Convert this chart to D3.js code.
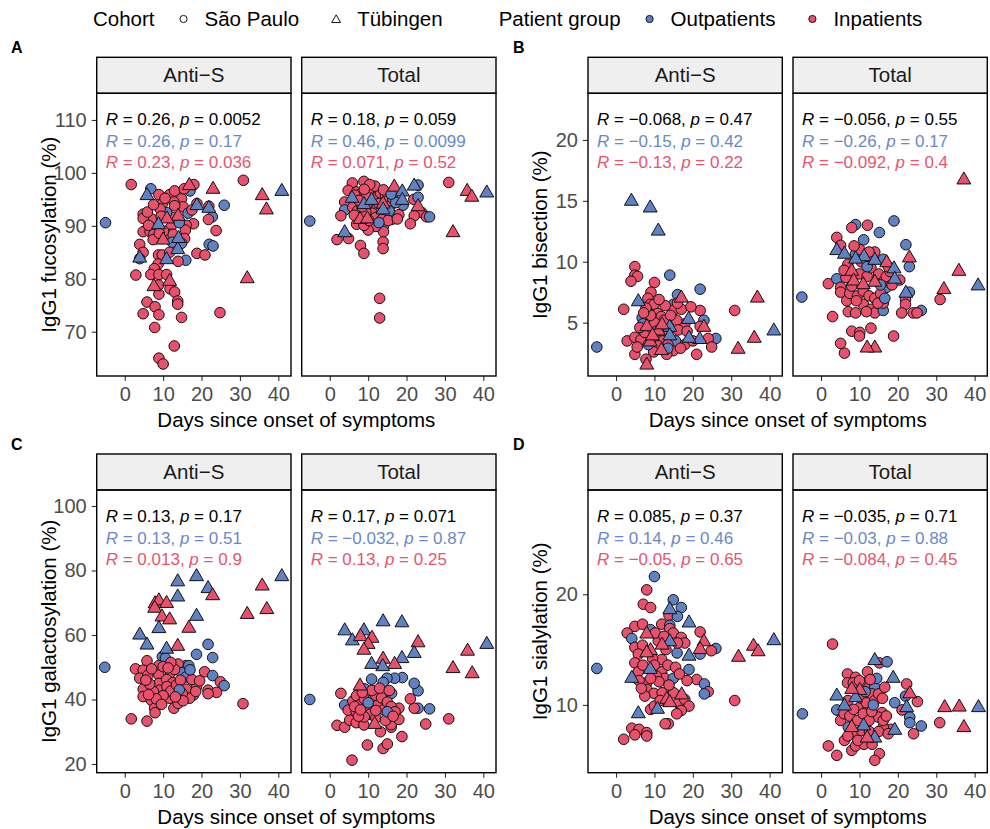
<!DOCTYPE html>
<html>
<head>
<meta charset="utf-8">
<script src="https://cdn.jsdelivr.net/npm/d3@7"></script>
<style>
body { margin: 0; background: #fff; }
svg text { font-family: "Liberation Sans", Arial, sans-serif; }
</style>
</head>
<body>
<svg id="chart" width="990" height="829"></svg>
<script>
// each point: [days since onset, value, group (O = outpatient, I = inpatient), cohort (S = São Paulo, T = Tübingen)]
let facetNames = ["Anti\u2212S", "Total"];

let fucAntiS = [
  [-5,90.6,"O","S"],[1.7,97.8,"I","S"],[6.8,97.0,"O","S"],[5.8,95.9,"O","T"],[8.9,95.9,"I","S"],
  [11.7,95.9,"I","S"],[13,96.6,"I","S"],[14.8,95.1,"I","S"],[16.8,97.8,"I","T"],[17,96.6,"O","S"],
  [18,97.8,"I","S"],[23,97.1,"I","T"],[30.9,98.6,"I","S"],[35.8,95.9,"I","T"],[40.9,96.7,"O","T"],
  [36.9,93.2,"I","T"],[25.9,93.9,"O","S"],[18.8,94.2,"I","S"],[18.8,94,"O","T"],[21.9,93.7,"I","S"],
  [21.9,93.5,"O","T"],[22.8,91.7,"O","S"],[21.8,91.2,"I","S"],[23.8,89.1,"I","S"],[22,86.5,"O","S"],
  [23,86.2,"O","S"],[18.8,84.8,"I","S"],[20.9,84.5,"I","S"],[17.9,90.4,"I","S"],[16,90.1,"I","S"],
  [15.8,89.2,"I","S"],[15.6,87.6,"I","S"],[15.9,83.5,"O","S"],[13.9,83.3,"I","S"],[13.8,85.7,"O","T"],
  [14,87.8,"O","T"],[14.8,86.7,"O","S"],[13.9,92.0,"I","T"],[13.5,91.3,"O","S"],[12.5,91.6,"I","S"],
  [10.9,92.5,"O","S"],[11,91.5,"I","T"],[9.8,94.2,"I","S"],[9.2,93.2,"I","S"],[8.8,90.4,"O","T"],
  [8.8,91.2,"I","S"],[7,91.3,"I","S"],[4.8,92.2,"I","S"],[4.8,91.4,"I","S"],[5.9,92.6,"I","S"],
  [4.8,88.9,"I","S"],[6.6,88.9,"I","S"],[7.6,88.4,"I","S"],[7.4,87.4,"I","S"],[10,87.5,"I","T"],
  [12,89.7,"I","S"],[11.9,88.4,"I","S"],[12.6,88.4,"I","S"],[10.1,89.0,"I","S"],[9,88.6,"I","S"],
  [3.9,86.5,"I","S"],[4.8,85,"I","S"],[3.9,83.8,"O","S"],[3.9,84.1,"O","T"],[10.9,83.8,"O","T"],
  [8.8,84.5,"I","S"],[9.8,84.5,"I","S"],[11.7,85,"I","S"],[8.7,82.8,"I","S"],[7.7,81.9,"I","S"],
  [2.9,80.7,"I","S"],[6.8,80.8,"I","S"],[8.9,80.8,"I","S"],[10.9,80.8,"I","S"],[11.7,79.7,"I","T"],
  [7.6,78.7,"I","T"],[8.8,78.8,"I","S"],[11.8,78.1,"I","S"],[13,77.5,"I","S"],[8.9,77.1,"I","S"],
  [13.8,75.8,"I","S"],[13.8,75.2,"I","S"],[5.8,75.6,"I","S"],[7.9,74.7,"I","S"],[4.8,73.4,"I","S"],
  [8.9,73.2,"I","S"],[14.8,72.7,"I","S"],[24.8,73.6,"I","S"],[7.8,70.8,"I","S"],[12.9,67.3,"I","S"],
  [8.9,65.0,"I","S"],[10,63.9,"I","S"],[31.9,80.2,"I","T"],[6.2,90.1,"I","S"],[9.5,91.8,"I","S"],
  [12.8,94.5,"I","S"],[15.2,93.6,"I","S"],[16.5,92.4,"O","S"],[10.5,95.2,"I","S"],[7.5,94.0,"I","S"],
  [14.2,90.6,"O","S"],[13,93.8,"I","S"],[12.4,86.9,"O","S"],[17.5,93.0,"I","S"],[15.5,97.0,"I","S"]
];
let fucTotal = [
  [-5.2,90.9,"O","S"],[5.9,98.1,"I","S"],[8.9,98.4,"I","S"],[4.8,96.7,"I","S"],[7,96.4,"I","S"],
  [8,96.0,"I","S"],[5.8,95.4,"O","T"],[3.9,94.5,"I","S"],[3.9,93.0,"O","S"],[2.9,91.9,"I","S"],
  [8.9,94.2,"O","T"],[10.8,97.0,"I","S"],[11.6,96.7,"I","S"],[10,96.4,"I","S"],[10.9,95.0,"O","T"],
  [13.9,94.3,"I","T"],[13.9,93.2,"O","T"],[16.8,97.5,"I","T"],[18.9,96.6,"O","T"],[22,97.7,"O","T"],
  [23,97.7,"O","S"],[18.9,95,"O","T"],[19.1,93.9,"O","S"],[21.9,95,"I","S"],[23,95.4,"O","S"],
  [23,93.8,"I","T"],[24,92.5,"I","S"],[25.2,91.7,"I","S"],[26,91.7,"O","S"],[22,91.9,"I","S"],
  [21,90.4,"I","S"],[18,92.1,"I","S"],[16.1,91.2,"O","S"],[31,98.2,"I","S"],[35.8,96.7,"I","T"],
  [37,95.6,"I","T"],[40.9,96.4,"O","T"],[32.1,88.9,"I","T"],[3.9,88.9,"O","T"],[1.9,87.4,"I","S"],
  [4.9,87.6,"I","S"],[8,86.3,"I","S"],[8.9,84.8,"I","S"],[13.9,87,"I","S"],[13.9,85.7,"I","S"],
  [14,89.9,"O","S"],[14,88.9,"I","S"],[12,89.9,"I","S"],[10,89.2,"I","S"],[7,90.3,"I","S"],
  [8.9,90.1,"I","S"],[7.9,91.4,"I","T"],[9.8,91.5,"I","T"],[13,76.3,"I","S"],[13,72.6,"I","S"],
  [6,93.5,"I","S"],[7.2,92.8,"I","S"],[6.5,95.8,"I","S"],[9.5,95.6,"I","S"],[10.5,93.8,"I","S"],
  [11.5,94.8,"I","S"],[12.2,93.2,"I","S"],[12.5,95.6,"I","S"],[13.2,96.2,"I","S"],[14.5,95.8,"I","S"],
  [15,94.6,"I","S"],[15.8,93.8,"I","S"],[16.4,95.2,"O","S"],[11,92.4,"I","S"],[12,91.6,"I","S"],
  [14.8,92.4,"I","S"],[9.4,92.6,"I","S"],[8.4,93.6,"I","S"],[7.6,94.8,"I","S"],[6.4,92.0,"I","S"],
  [10.2,91.0,"I","S"],[13.6,91.2,"I","S"],[15.5,92.8,"O","S"],[17.2,94.4,"O","S"],[12.8,94.2,"I","S"],
  [11.8,97.5,"I","S"],[10.4,97.8,"I","S"],[14,96.8,"I","S"],[16,96.0,"O","S"],[9,96.9,"I","S"],
  [15.2,91.0,"I","S"],[17.6,91.3,"I","S"],[12.8,90.6,"O","S"]
];
let bisAntiS = [
  [-5,3.0,"O","S"],[4,15.05,"O","T"],[8.9,14.5,"O","T"],[11,12.6,"O","T"],[4.9,9.6,"I","S"],
  [4.9,8.9,"I","S"],[5.6,8.8,"I","S"],[3.9,8.4,"I","S"],[10,8.3,"I","S"],[14,8.9,"O","S"],
  [21.9,7.75,"O","S"],[17,7.1,"I","T"],[16,7.3,"O","S"],[5.8,6.8,"O","T"],[9.1,7.5,"I","S"],
  [8.3,7.0,"I","S"],[8.9,6.5,"I","S"],[9.9,6.5,"I","S"],[2,6.1,"I","S"],[14.9,6.5,"O","S"],
  [14.9,6.0,"I","S"],[21.9,6.0,"I","S"],[30.9,6.0,"I","S"],[36.8,7.1,"I","T"],[41.1,4.4,"O","T"],
  [36,3.8,"I","T"],[31.8,2.9,"I","T"],[26,3.7,"O","S"],[24,3.7,"I","S"],[24.9,3.0,"I","S"],
  [22.9,4.7,"I","T"],[22.9,5.2,"O","S"],[21.9,4.7,"I","S"],[18.9,5.35,"O","T"],[17.9,4.9,"I","S"],
  [21.8,3.7,"O","T"],[19,3.8,"O","T"],[17.9,3.2,"I","S"],[14,4.7,"O","T"],[14,4.0,"O","T"],
  [15.8,5.2,"I","S"],[10.8,5.75,"I","S"],[11.8,5.5,"I","S"],[6.8,5.4,"O","S"],[7,4.9,"O","S"],
  [8,4.75,"I","T"],[11,4.4,"I","T"],[8.9,3.5,"I","T"],[11.8,2.8,"I","T"],[7.8,2.0,"I","S"],
  [8,1.6,"I","T"],[4.9,2.4,"I","S"],[2.9,3.5,"I","S"],[4.9,3.8,"I","S"],[21,2.4,"I","S"],
  [14.9,2.7,"I","S"],[13.2,2.4,"I","S"],[6.5,3.6,"I","S"],[7.5,4.2,"I","S"],[9.5,4.5,"I","S"],
  [10.4,3.9,"I","S"],[12.2,3.5,"I","S"],[13,4.4,"I","S"],[12.5,5.2,"I","S"],[10,5.0,"I","S"],
  [9,5.6,"I","S"],[7.8,6.2,"I","S"],[16.2,4.4,"I","S"],[15.5,3.5,"O","S"],[16.8,2.9,"I","S"],
  [13.5,3.2,"I","S"],[11,3.1,"I","S"],[9.8,2.6,"I","S"],[8.4,3.2,"O","S"],[6.2,4.6,"I","S"],
  [14.2,5.6,"I","S"],[17,6.1,"I","S"],[19.5,6.3,"I","S"],[12.8,6.4,"I","S"],[11.2,6.9,"I","S"],
  [10.5,4.3,"O","S"],[7.2,5.8,"I","S"],[5.5,3.0,"I","S"],[18.5,4.3,"I","S"],[16,6.6,"I","S"],
  [13.5,2.9,"O","S"],[20,3.5,"I","S"],[12,4.9,"I","T"],[9.5,4.0,"I","T"]
];
let bisTotal = [
  [-5,7.1,"O","S"],[37.2,16.8,"I","T"],[19,13.35,"O","S"],[9,13.05,"O","S"],[8,12.8,"I","S"],
  [12.1,13.0,"I","S"],[15.2,12.4,"O","S"],[11.1,11.8,"O","S"],[4.1,12.0,"I","S"],[5.1,11.35,"I","S"],
  [22.1,11.4,"O","S"],[4.1,11.0,"O","T"],[6.1,10.7,"O","T"],[9,10.65,"O","S"],[10.1,11.0,"I","S"],
  [11.2,10.5,"O","T"],[9,10.3,"O","T"],[14,10.8,"I","S"],[14,10.2,"O","T"],[16.2,10.2,"O","S"],
  [17.1,10.0,"I","T"],[23,10.4,"I","T"],[23,9.6,"O","S"],[19,9.5,"O","T"],[19.2,8.65,"O","T"],
  [35.9,9.3,"I","T"],[40.9,8.1,"O","T"],[32,7.8,"I","T"],[31,6.9,"I","S"],[22.1,7.5,"O","T"],
  [23,7.5,"O","S"],[22,6.9,"I","S"],[22,6.5,"I","S"],[26.1,6.0,"O","S"],[24,5.8,"I","S"],
  [25,5.8,"I","S"],[21,5.8,"I","S"],[18.9,3.9,"I","S"],[14,3.0,"I","T"],[12,3.0,"I","T"],
  [6.1,2.5,"I","S"],[5.1,3.3,"I","S"],[8,4.3,"I","S"],[10.1,4.2,"I","S"],[10,3.9,"I","S"],
  [13,4.55,"I","S"],[3,5.5,"I","S"],[1.9,8.2,"I","S"],[4.1,8.6,"O","S"],[5.1,7.9,"I","S"],
  [5.1,7.5,"I","S"],[6.7,6.8,"I","S"],[7.1,5.9,"I","S"],[9,5.8,"I","S"],[11,6.5,"I","S"],
  [13,6.1,"I","S"],[14,5.8,"I","S"],[16.2,6.0,"O","S"],[16.2,6.6,"I","S"],[17.1,7.9,"O","S"],
  [7,9.8,"I","S"],[8,9.3,"I","T"],[8.5,8.5,"I","T"],[10,9.0,"I","S"],[11,8.2,"I","T"],
  [12,8.8,"I","S"],[13,9.5,"I","S"],[14,8.4,"I","T"],[15,9.0,"I","S"],[16,8.3,"I","S"],
  [17,8.8,"I","S"],[18,9.2,"I","S"],[7.5,7.4,"I","S"],[9.5,7.2,"I","S"],[11,7.6,"I","S"],
  [12.5,7.2,"I","S"],[14,7.0,"I","S"],[15.5,7.4,"I","S"],[13.5,10.2,"I","S"],[10.5,10.0,"I","S"],
  [8,8.0,"I","S"],[12,9.6,"O","S"],[15.5,8.1,"O","S"],[6.5,8.7,"I","S"],[9.2,6.8,"I","S"],
  [11.8,5.9,"I","S"],[14.8,6.6,"I","S"],[16.6,7.0,"O","S"],[8.6,11.3,"I","S"],[6,9.3,"I","S"],
  [17.5,9.6,"I","S"],[18.5,8.1,"I","S"],[20.5,8.5,"I","S"],[12.5,10.8,"I","S"]
];
let galAntiS = [
  [-5.2,50,"O","S"],[1.7,34,"I","S"],[5.8,33.3,"I","S"],[3.9,60.3,"O","T"],[5.8,57.2,"O","T"],
  [7.9,70,"I","T"],[8.9,70.9,"I","T"],[10.9,70.1,"I","T"],[7.8,68.6,"I","T"],[9.7,65.9,"I","T"],
  [11.7,65,"I","T"],[8.9,62.3,"O","T"],[10.9,55.9,"O","T"],[13.8,56.8,"I","T"],[13.8,76.8,"O","T"],
  [13.8,72.1,"O","T"],[18.7,78.4,"O","T"],[21.7,74.7,"O","T"],[22.9,72.5,"I","T"],[18.7,66.1,"O","T"],
  [16.7,62.4,"I","T"],[31.9,66.7,"I","T"],[35.8,75.5,"I","T"],[37,68.2,"I","T"],[40.9,78.4,"O","T"],
  [21.7,57.1,"O","S"],[18.7,54,"O","S"],[22.9,53,"O","S"],[9.8,53.3,"O","S"],[10.6,52.8,"O","S"],
  [20.8,48.6,"I","S"],[22.9,47.4,"O","S"],[24.9,45.5,"I","S"],[25.9,44.3,"O","S"],[21.7,42.9,"I","S"],
  [23.9,42.2,"I","S"],[21.7,41.8,"I","S"],[30.8,38.7,"I","S"],[18.7,44,"I","S"],[17.9,41.4,"I","S"],
  [15.9,50.5,"O","S"],[16.7,50.5,"O","S"],[13.9,51,"I","S"],[5.8,52,"I","S"],[2.8,49.5,"I","S"],
  [4.8,49.1,"I","S"],[3.9,46.6,"I","S"],[4.8,43.2,"I","S"],[4.8,40.9,"I","S"],[6.9,39.8,"I","S"],
  [7.8,37.3,"I","S"],[7.9,35.9,"I","S"],[8.9,50.5,"I","S"],[8.9,47.6,"I","S"],[8.9,45,"I","S"],
  [11.7,40.4,"I","S"],[12.8,37.3,"I","S"],[13.9,38.8,"I","S"],[11.9,48.3,"I","S"],[10.9,46.2,"I","S"],
  [12.6,45.2,"I","S"],[14.8,48.3,"O","S"],[16,47.0,"O","S"],[16,43.2,"I","S"],[16.9,40.4,"I","S"],
  [9.1,42.9,"I","S"],[7.5,42.4,"I","S"],[6,47.5,"I","S"],[7,49.5,"I","S"],[10,50.2,"I","S"],
  [11,44,"I","S"],[12,42.6,"I","S"],[13.5,44.5,"I","S"],[14.5,46,"I","S"],[15,41.8,"I","S"],
  [13,49.3,"I","S"],[6.5,44.8,"I","S"],[10,41.2,"I","S"],[8.2,40.2,"I","S"],[15.2,39.6,"I","S"],
  [17.5,46.2,"I","S"],[19.5,45.8,"I","S"],[12,51.5,"I","S"],[6.2,41.5,"I","S"],[9.6,38.5,"I","S"],
  [14.2,43,"O","S"],[11.3,49.8,"I","S"],[17,49.2,"O","S"],[5.5,46,"I","S"],[18.5,42.5,"I","S"],
  [13.2,40.8,"I","S"]
];
let galTotal = [
  [-5.2,40,"O","S"],[3.9,61.6,"O","T"],[5.9,58.5,"O","T"],[8.9,61.6,"O","T"],[8,59.8,"I","T"],
  [11,59.3,"I","T"],[10,57.4,"I","T"],[8.9,55.6,"I","T"],[13.9,64.4,"O","T"],[18.8,64.1,"O","T"],
  [23,57.9,"I","T"],[22,54.6,"O","T"],[18.8,53,"O","T"],[16.9,51.2,"I","T"],[13.9,52.8,"I","T"],
  [13.8,50.5,"O","T"],[10.9,51.2,"O","T"],[35.9,55.3,"I","T"],[40.9,57.4,"O","T"],[37.1,48.3,"I","T"],
  [32.1,49.9,"I","T"],[7.9,44.5,"I","T"],[11.7,32.6,"I","T"],[31,34,"I","S"],[26,37.1,"O","S"],
  [23,37.3,"O","S"],[22,37.3,"I","S"],[21,40.2,"I","S"],[23,42.7,"O","S"],[22,45,"O","S"],
  [18.9,46.8,"O","S"],[16.9,46.6,"O","S"],[14.9,46.6,"O","S"],[13.9,45.3,"O","S"],[10.9,46.3,"O","S"],
  [9.1,43.3,"O","S"],[16.1,41.9,"O","S"],[2.9,41.9,"I","S"],[3.9,38.3,"O","S"],[1.9,32,"I","S"],
  [3.9,31.4,"I","S"],[25,32.4,"I","S"],[18.8,28.5,"I","S"],[9.8,25.9,"I","S"],[13.9,24.8,"I","S"],
  [15,26.2,"I","S"],[5.8,21.2,"I","S"],[13.2,30,"I","S"],[16,31.4,"I","S"],[16,32.2,"I","S"],
  [18,37.3,"I","S"],[18,33.8,"I","S"],[5.2,33.6,"I","S"],[6.9,32.8,"I","S"],[8.9,32.1,"I","S"],
  [4.8,36.7,"I","S"],[6.9,36.2,"I","S"],[6,39.5,"I","S"],[7,41.2,"I","S"],[8,38.5,"I","S"],
  [9,40.2,"I","S"],[10,37.6,"I","S"],[11,39.8,"I","S"],[12,41.3,"I","S"],[12.5,38.2,"I","S"],
  [13.5,40.5,"I","S"],[14,36.8,"I","S"],[15,39.2,"I","S"],[16,37.8,"I","S"],[17,36.2,"I","S"],
  [10.5,35.4,"I","S"],[9,34.6,"I","S"],[7.5,34.8,"I","S"],[12,34.2,"I","S"],[14.5,33.5,"I","S"],
  [11,42.8,"I","S"],[8.5,42.2,"I","S"],[6.5,37.8,"I","S"],[13,43.5,"I","S"],[15.5,42.8,"I","S"],
  [10,39.0,"O","S"],[15,36.2,"O","S"],[12,36.6,"I","S"],[16.5,34.8,"I","S"],[8,36.8,"I","S"]
];
let sialAntiS = [
  [-5,13.3,"O","S"],[10,21.6,"O","S"],[8,20.4,"I","S"],[7.1,19.1,"I","S"],[9,18.8,"I","S"],
  [14.9,19.5,"O","S"],[14,18.7,"O","T"],[17,18.8,"O","S"],[13.8,18.1,"I","S"],[16,18,"O","S"],
  [19,17.5,"O","T"],[11.9,17.3,"I","S"],[14,17.2,"O","S"],[14,16.9,"I","S"],[4.9,17.1,"I","S"],
  [6.9,17.3,"I","S"],[2.9,16.5,"I","S"],[4.1,16,"O","S"],[9,16.8,"O","S"],[8,16.5,"I","T"],
  [14.9,16.5,"I","S"],[17,16.1,"I","S"],[21.9,16.6,"I","S"],[22.9,15.8,"I","T"],[14,15.8,"O","T"],
  [12,15.5,"I","T"],[17.9,15.6,"I","S"],[26,15.1,"O","S"],[24.8,14.9,"I","S"],[21.9,15.1,"I","T"],
  [21.9,14.6,"O","S"],[15.9,14.7,"O","S"],[19,14.5,"O","T"],[35.8,15.4,"I","T"],[37,14.9,"I","T"],
  [41.1,15.9,"O","T"],[31.9,14.4,"I","T"],[30.9,10.4,"I","S"],[4.9,15.2,"I","S"],[6.9,15.4,"I","S"],
  [5.8,14.6,"I","S"],[9,15,"I","T"],[8,14.8,"I","T"],[4.9,13.8,"I","S"],[5.8,13.0,"I","S"],
  [4.1,12.5,"O","T"],[8.9,13.3,"O","T"],[11.9,14.1,"I","S"],[11.9,13.0,"I","S"],[12.7,12.4,"I","S"],
  [14.9,12.4,"O","S"],[19,13.2,"O","S"],[21,12.3,"I","S"],[23,11.9,"O","S"],[24,11.2,"I","S"],
  [23,11,"O","S"],[8,12,"I","S"],[8,11.4,"I","S"],[9.9,11.05,"I","S"],[12,11.1,"I","S"],
  [13.2,10.6,"I","T"],[15,11.1,"I","S"],[17.1,11,"I","T"],[16.2,10.2,"I","S"],[17.9,10.5,"I","S"],
  [19,9.9,"I","S"],[17,9.5,"I","S"],[14,10.3,"I","T"],[10.8,9.7,"O","T"],[9,9.6,"I","S"],
  [10,9.9,"I","S"],[5.8,9.3,"O","T"],[13.6,8.3,"I","S"],[12.8,8.3,"I","S"],[4.1,7.9,"I","S"],
  [6,7.8,"I","S"],[8,7.5,"I","S"],[8,7.2,"I","S"],[4.9,7.3,"I","S"],[2,6.9,"I","S"],
  [6,12.2,"I","S"],[7,13.6,"I","S"],[9.5,14.2,"I","S"],[10.5,12.6,"I","S"],[11,15.8,"I","S"],
  [10.2,16.5,"I","S"],[13,15,"I","S"],[13.5,13.6,"I","S"],[15.5,13.4,"I","S"],[16.5,12.8,"I","S"],
  [10,13.6,"I","S"],[7.5,10.8,"I","S"],[11.2,12.1,"I","S"],[12.5,16.2,"I","S"],[16,15.6,"I","S"],
  [6.6,11.5,"I","S"],[9,12.4,"I","S"],[13.8,11.8,"I","S"],[18.5,12.2,"I","S"],[15.8,9.2,"I","S"],
  [11.5,10.4,"I","S"]
];
let sialTotal = [
  [-4.85,9.2,"O","S"],[3,15.5,"I","S"],[14,14.1,"O","T"],[15.2,13.8,"I","S"],[17.2,13.9,"O","S"],
  [12.1,13,"I","S"],[18.8,12.5,"O","T"],[6.9,12.8,"I","S"],[6.9,12.0,"I","S"],[9,12.5,"I","S"],
  [11.3,12,"I","S"],[10.1,11.4,"I","T"],[12.3,11.5,"I","S"],[14,11.6,"O","S"],[13.3,11.0,"I","S"],
  [22.3,11.9,"I","S"],[23.1,11.1,"I","T"],[22,10.8,"O","S"],[25.1,10.3,"I","S"],[19.2,10.2,"O","S"],
  [4.1,10.9,"O","T"],[6.1,10,"O","T"],[9,10.75,"O","T"],[8,11.5,"I","T"],[22.3,9.85,"O","T"],
  [21.1,9.55,"I","S"],[23.1,8.9,"O","S"],[23.1,8.4,"O","S"],[26.1,8.1,"O","S"],[24.1,7.4,"I","S"],
  [30.9,8.4,"I","S"],[32.2,9.85,"I","T"],[36,9.9,"I","T"],[41,9.85,"O","T"],[37.2,8.05,"I","T"],
  [19.2,7.8,"O","T"],[18.2,7.8,"I","S"],[16.2,8,"I","S"],[14,7.1,"O","T"],[12,7.1,"I","T"],
  [11.1,8.2,"O","T"],[8,8.05,"I","T"],[7.1,8,"O","S"],[1.9,6.3,"I","S"],[4.1,5.45,"I","S"],
  [6.1,6.8,"I","S"],[8,5.9,"I","S"],[9,6.3,"I","S"],[11.2,6.45,"I","S"],[13.3,6.45,"I","S"],
  [15.2,5.6,"I","S"],[14,5.0,"I","S"],[4.9,9.4,"I","S"],[5.1,8.6,"I","S"],[4.1,9.55,"O","S"],
  [10.1,9.8,"I","S"],[12.2,9.7,"I","S"],[15.9,9.3,"I","S"],[14.9,8.9,"I","S"],[16.2,8.6,"I","S"],
  [6,9.2,"I","S"],[7,10.4,"I","S"],[7.5,9.0,"I","S"],[8.5,9.6,"I","S"],[9.5,8.6,"I","S"],
  [10.5,10.6,"I","S"],[11,9.2,"I","S"],[11.8,10.2,"I","S"],[12.5,8.6,"I","S"],[13.2,9.4,"I","S"],
  [14,10.4,"I","S"],[15,11.0,"I","S"],[16,10.6,"I","S"],[17,9.0,"I","S"],[9,7.4,"I","S"],
  [10.5,7.7,"I","S"],[12.6,7.6,"I","S"],[15,7.6,"I","S"],[7,7.2,"I","S"],[11.5,11.2,"O","S"],
  [13.6,10.0,"O","S"],[16.6,11.6,"I","S"],[8.4,12.0,"I","S"],[10,12.2,"I","S"],[14.5,12.4,"O","S"],
  [12.8,12.3,"I","S"],[9.6,6.8,"I","S"],[17.5,7.4,"I","S"]
];

// correlation labels per facet: [R, p] for all, outpatients, inpatients
let fucCorAntiS = [["0.26","0.0052"],["0.26","0.17"],["0.23","0.036"]];
let fucCorTotal = [["0.18","0.059"],["0.46","0.0099"],["0.071","0.52"]];
let bisCorAntiS = [["\u22120.068","0.47"],["\u22120.15","0.42"],["\u22120.13","0.22"]];
let bisCorTotal = [["\u22120.056","0.55"],["\u22120.26","0.17"],["\u22120.092","0.4"]];
let galCorAntiS = [["0.13","0.17"],["0.13","0.51"],["0.013","0.9"]];
let galCorTotal = [["0.17","0.071"],["\u22120.032","0.87"],["0.13","0.25"]];
let sialCorAntiS = [["0.085","0.37"],["0.14","0.46"],["\u22120.05","0.65"]];
let sialCorTotal = [["\u22120.035","0.71"],["\u22120.03","0.88"],["\u22120.084","0.45"]];

let xTicks = [0, 10, 20, 30, 40];

let plots = [
  {label: "A", col: 0, row: 0, title: "IgG1 fucosylation (%)", yDomain: [61.63, 115.04], yTicks: [70, 80, 90, 100, 110],
   data: [fucAntiS, fucTotal], cor: [fucCorAntiS, fucCorTotal]},
  {label: "B", col: 1, row: 0, title: "IgG1 bisection (%)", yDomain: [0.62, 23.83], yTicks: [5, 10, 15, 20],
   data: [bisAntiS, bisTotal], cor: [bisCorAntiS, bisCorTotal]},
  {label: "C", col: 0, row: 1, title: "IgG1 galactosylation (%)", yDomain: [17.3, 104.96], yTicks: [20, 40, 60, 80, 100],
   data: [galAntiS, galTotal], cor: [galCorAntiS, galCorTotal]},
  {label: "D", col: 1, row: 1, title: "IgG1 sialylation (%)", yDomain: [3.88, 29.42], yTicks: [10, 20],
   data: [sialAntiS, sialTotal], cor: [sialCorAntiS, sialCorTotal]}
];

let W = 194.3, GAP = 10.7, STRIP = 36, PH = 282.7;
let colLeft = [96.7, 588], rowTop = [57.3, 454];
let labelX = [11, 513];
let fill = {O: "#6081C2", I: "#E8506B"};
let textCol = ["#000000", "#6A89C8", "#E9546E"];

let svg = d3.select("#chart");
let x = d3.scaleLinear().domain([-7.3, 43.3]).range([0, W]);
let tri = d3.symbol().type(d3.symbolTriangle).size(84);

let styleAxis = function(g) {
  g.select(".domain").remove();
  g.selectAll(".tick line").attr("stroke", "#333").attr("stroke-width", 1.1);
  g.selectAll(".tick text").attr("fill", "#4d4d4d").style("font-size", "20px");
}

plots.forEach(function(p) {
  let left = colLeft[p.col], top = rowTop[p.row], pTop = top + STRIP;
  let y = d3.scaleLinear().domain(p.yDomain).range([PH, 0]);

  svg.append("text").attr("x", labelX[p.col]).attr("y", top - 4)
    .style("font-size", "16px").style("font-weight", "bold").text(p.label);

  svg.append("g").attr("transform", "translate(" + left + "," + pTop + ")")
    .call(d3.axisLeft(y).tickValues(p.yTicks).tickSize(5).tickPadding(5))
    .call(styleAxis);

  svg.append("text")
    .attr("transform", "translate(" + (left - 48) + "," + (pTop + PH / 2) + ") rotate(-90)")
    .attr("text-anchor", "middle").attr("dy", "0.35em")
    .style("font-size", "20.5px").text(p.title);

  svg.append("text").attr("x", left + W + GAP / 2).attr("y", pTop + PH + 51)
    .attr("text-anchor", "middle").style("font-size", "20.5px")
    .text("Days since onset of symptoms");

  facetNames.forEach(function(name, i) {
    let fx = left + i * (W + GAP);
    svg.append("rect").attr("x", fx).attr("y", top).attr("width", W).attr("height", STRIP)
      .attr("fill", "#EFEFEF").attr("stroke", "#000").attr("stroke-width", 1.4);
    svg.append("text").attr("x", fx + W / 2).attr("y", top + STRIP / 2).attr("dy", "0.35em")
      .attr("text-anchor", "middle").attr("fill", "#1a1a1a").style("font-size", "20.5px").text(name);

    let g = svg.append("g").attr("transform", "translate(" + fx + "," + pTop + ")");

    g.append("g").attr("transform", "translate(0," + PH + ")")
      .call(d3.axisBottom(x).tickValues(xTicks).tickSize(5).tickPadding(6))
      .call(styleAxis);

    let pts = p.data[i];
    g.selectAll("circle").data(pts.filter(d => d[3] == "S")).enter().append("circle")
      .attr("cx", d => x(d[0])).attr("cy", d => y(d[1])).attr("r", 5.3)
      .attr("fill", d => fill[d[2]]).attr("stroke", "#111").attr("stroke-width", 1);
    g.selectAll("path.tri").data(pts.filter(d => d[3] == "T")).enter().append("path")
      .attr("class", "tri").attr("d", tri)
      .attr("transform", d => "translate(" + x(d[0]) + "," + (y(d[1]) + 1) + ")")
      .attr("fill", d => fill[d[2]]).attr("stroke", "#111").attr("stroke-width", 1);

    p.cor[i].forEach(function(c, k) {
      let t = g.append("text").attr("x", 9).attr("y", 32 + k * 21.5)
        .attr("fill", textCol[k]).style("font-size", "17px");
      t.append("tspan").style("font-style", "italic").text("R");
      t.append("tspan").text(" = " + c[0] + ", ");
      t.append("tspan").style("font-style", "italic").text("p");
      t.append("tspan").text(" = " + c[1]);
    });

    g.append("rect").attr("width", W).attr("height", PH)
      .attr("fill", "none").attr("stroke", "#000").attr("stroke-width", 1.4);
  });
});

// legend
let lg = svg.append("g").attr("transform", "translate(0,19)");
let lx = 93;
let addText = function(s) {
  let t = lg.append("text").attr("x", lx).attr("dy", "0.35em").style("font-size", "20.5px").text(s);
  lx += t.node().getComputedTextLength();
}
let items = [
  {title: "Cohort", keys: [["circle", "none", "São Paulo"], ["tri", "none", "Tübingen"]]},
  {title: "Patient group", keys: [["circle", fill.O, "Outpatients"], ["circle", fill.I, "Inpatients"]]}
];
items.forEach(function(it, n) {
  if (n > 0) lx += 56;
  addText(it.title);
  lx += 12;
  it.keys.forEach(function(k, j) {
    if (j > 0) lx += 20;
    let cx = lx + 17;
    if (k[0] == "circle") {
      lg.append("circle").attr("cx", cx).attr("cy", 0).attr("r", 3.6)
        .attr("fill", k[1]).attr("stroke", "#111").attr("stroke-width", 1);
    } else {
      lg.append("path").attr("d", d3.symbol().type(d3.symbolTriangle).size(34))
        .attr("transform", "translate(" + cx + ",1)").attr("fill", "none").attr("stroke", "#111");
    }
    lx += 38;
    addText(k[2]);
  });
});
</script>
</body>
</html>
